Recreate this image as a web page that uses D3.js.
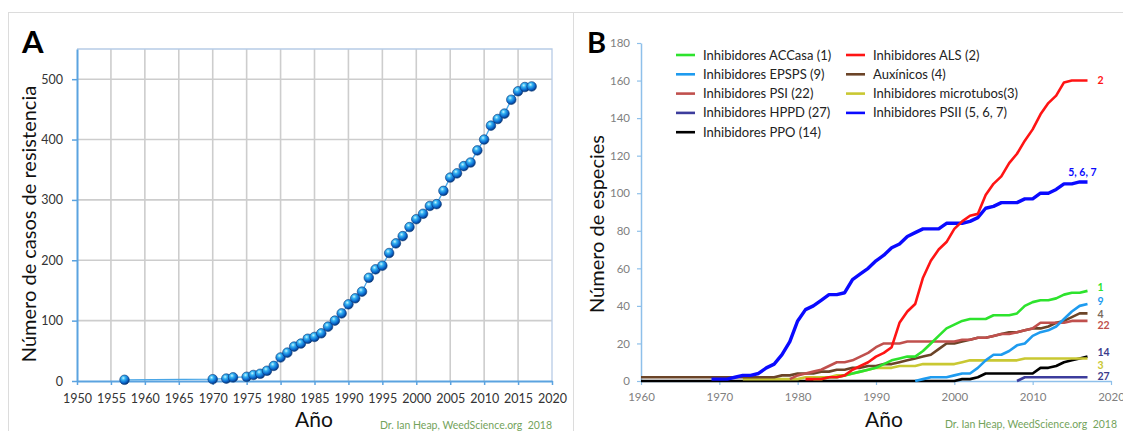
<html>
<head>
<script src="https://d3js.org/d3.v7.min.js"></script>
<style>
  body { margin: 0; background: #fff; }
  text { font-family: Lato, "Open Sans", sans-serif; }
</style>
</head>
<body>
<svg id="chart" width="1123" height="431"></svg>
<script>

// ---------- panel A: accumulated resistance cases ----------
const yearsA = [1957, 1970, 1972, 1973, 1975, 1976, 1977, 1978, 1979, 1980, 1981, 1982, 1983, 1984, 1985, 1986,
  1987, 1988, 1989, 1990, 1991, 1992, 1993, 1994, 1995, 1996, 1997, 1998, 1999, 2000, 2001, 2002, 2003, 2004,
  2005, 2006, 2007, 2008, 2009, 2010, 2011, 2012, 2013, 2014, 2015, 2016, 2017];
const casesA = [2, 3, 4, 6, 7, 10, 12, 17, 25, 39, 47, 57, 62, 70, 73, 79,
  90, 100, 112, 127, 137, 148, 171, 185, 191, 212, 228, 240, 255, 268, 277, 290, 293, 315,
  337, 344, 356, 362, 382, 400, 423, 434, 443, 466, 480, 487, 488];
const xTicksA = [1950, 1955, 1960, 1965, 1970, 1975, 1980, 1985, 1990, 1995, 2000, 2005, 2010, 2015, 2020];
const yTicksA = [0, 100, 200, 300, 400, 500];

// ---------- panel B: species per herbicide site of action (1960-2017) ----------
const yearsB = d3.range(1960, 2018);
const _ = null;
const accasa = [_,_,_,_,_,_,_,_,_,_, _,_,_,_,_,_,_,_,_,_,
  _,_,1,1,2,2,3,4,5,6, 7,9,11,12,13,13,16,20,24,28,
  30,32,33,33,33,35,35,35,36,40, 42,43,43,44,46,47,47,48];
const als = [_,_,_,_,_,_,_,_,_,_, _,_,_,_,_,_,_,_,_,_,
  _,1,1,1,2,2,3,6,8,10, 13,15,18,31,37,41,55,64,70,74,
  81,85,88,89,99,105,109,116,121,128, 134,142,148,152,159,160,160,160];
const epsps = [_,_,_,_,_,_,_,_,_,_, _,_,_,_,_,_,_,_,_,_,
  _,_,_,_,_,_,_,_,_,_, _,_,_,_,_,0,1,2,2,2,
  3,4,4,7,11,14,14,16,19,20, 24,26,27,29,33,37,40,41];
const auxinicos = [2,2,2,2,2,2,2,2,2,2, 2,2,2,2,2,2,2,2,3,3,
  4,4,4,5,5,6,6,7,7,8, 8,9,9,10,11,12,13,14,17,20,
  20,21,22,23,23,24,25,26,26,27, 28,28,29,31,32,34,36,36];
const psi = [_,_,_,_,_,_,_,_,_,_, _,_,_,_,_,_,_,_,_,1,
  3,4,5,6,8,10,10,11,13,15, 18,20,20,20,21,21,21,21,21,21,
  21,22,22,23,23,24,25,25,26,27, 28,31,31,31,31,32,32,32];
const microtubos = [_,_,_,_,_,_,_,_,_,_, _,_,_,1,1,1,1,1,1,1,
  1,2,2,2,2,3,3,4,5,6, 7,7,7,8,8,8,9,9,9,9,
  9,10,11,11,11,11,11,11,11,12, 12,12,12,12,12,12,12,12];
const hppd = [_,_,_,_,_,_,_,_,_,_, _,_,_,_,_,_,_,_,_,_,
  _,_,_,_,_,_,_,_,_,_, _,_,_,_,_,_,_,_,_,_,
  _,_,_,_,_,_,_,_,0,2, 2,2,2,2,2,2,2,2];
const psii = [_,_,_,_,_,_,_,_,_,1, 1,1,2,3,3,4,7,9,14,21,
  32,38,40,43,46,46,47,54,57,60, 64,67,71,73,77,79,81,81,81,84,
  84,84,85,87,92,93,95,95,95,97, 97,100,100,102,105,105,106,106];
const ppo = [0,0,0,0,0,0,0,0,0,0, 0,0,0,0,0,0,0,0,0,0,
  0,0,0,0,0,0,0,0,0,0, 0,0,0,0,0,0,0,0,0,0,
  0,1,1,2,4,4,4,4,4,4, 4,7,7,8,10,11,12,13];

const legendNames = ["Inhibidores ACCasa (1)", "Inhibidores EPSPS (9)", "Inhibidores PSI (22)",
  "Inhibidores HPPD (27)", "Inhibidores PPO (14)", "Inhibidores ALS (2)", "Auxínicos (4)",
  "Inhibidores microtubos(3)", "Inhibidores PSII (5, 6, 7)"];
const endLabels = ["1", "9", "22", "27", "14", "2", "4", "3", "5, 6, 7"];
// value (in species) where each end label sits
const endLabelAt = [49.7, 42.2, 29.8, 2.7, 15.4, 160, 35.7, 8.5, 111];
const xTicksB = [1960, 1970, 1980, 1990, 2000, 2010, 2020];
const yTicksB = [0, 20, 40, 60, 80, 100, 120, 140, 160, 180];

const seriesB = [
  { values: accasa, color: "#2de32d" },
  { values: epsps, color: "#1e9bef" },
  { values: psi, color: "#c0504d" },
  { values: hppd, color: "#3c3c9c" },
  { values: ppo, color: "#000000" },
  { values: als, color: "#ff1414" },
  { values: auxinicos, color: "#6b4428" },
  { values: microtubos, color: "#c9c832" },
  { values: psii, color: "#0a0aff" }
];
const labelColors = ["#2de32d", "#1e9bef", "#c0504d", "#3c3c8c", "#3c3c8c", "#ff1414", "#7a6a5a", "#c9c832", "#0a0aff"];
const drawOrder = [4, 3, 7, 6, 2, 1, 0, 8, 5];

const svg = d3.select("#chart");

// frame lines
svg.append("line").attr("x1", 8).attr("x2", 1123).attr("y1", 12.5).attr("y2", 12.5)
  .attr("stroke", "#dcdcdc").attr("stroke-width", 1);
svg.append("line").attr("x1", 8.5).attr("x2", 8.5).attr("y1", 12).attr("y2", 431)
  .attr("stroke", "#dcdcdc").attr("stroke-width", 1);
svg.append("line").attr("x1", 573.5).attr("x2", 573.5).attr("y1", 12).attr("y2", 431)
  .attr("stroke", "#dcdcdc").attr("stroke-width", 1);

// ================= panel A =================
const xA = d3.scaleLinear().domain([1950, 2020]).range([77, 552]);
const yA = d3.scaleLinear().domain([0, 550]).range([381, 49]);

const defs = svg.append("defs");
const grad = defs.append("radialGradient").attr("id", "ball")
  .attr("cx", "38%").attr("cy", "32%").attr("r", "68%");
grad.append("stop").attr("offset", "0%").attr("stop-color", "#c8f6ff");
grad.append("stop").attr("offset", "30%").attr("stop-color", "#35b4f2");
grad.append("stop").attr("offset", "72%").attr("stop-color", "#0a66cc");
grad.append("stop").attr("offset", "100%").attr("stop-color", "#06367a");

const gA = svg.append("g");

gA.selectAll(".vgrid").data(xTicksA.slice(1, -1)).join("line")
  .attr("x1", d => xA(d)).attr("x2", d => xA(d)).attr("y1", yA(550)).attr("y2", yA(0))
  .attr("stroke", "#cdcdcd").attr("stroke-width", 1.6);
gA.selectAll(".hgrid").data(yTicksA.slice(1)).join("line")
  .attr("x1", xA(1950)).attr("x2", xA(2020)).attr("y1", d => yA(d)).attr("y2", d => yA(d))
  .attr("stroke", "#cdcdcd").attr("stroke-width", 1.6);

// top and right border of plot
gA.append("path")
  .attr("d", `M${xA(1950)},${yA(550)}H${xA(2020)}V${yA(0)}`)
  .attr("fill", "none").attr("stroke", "#b7cbe6").attr("stroke-width", 1.3);

const axAy = gA.append("g").attr("transform", `translate(${xA(1950)},0)`)
  .call(d3.axisLeft(yA).tickValues(yTicksA).tickSize(5).tickSizeOuter(0).tickPadding(9));
const axAx = gA.append("g").attr("transform", `translate(0,${yA(0)})`)
  .call(d3.axisBottom(xA).tickValues(xTicksA).tickFormat(d3.format("d")).tickSize(4).tickSizeOuter(0).tickPadding(9));
[axAy, axAx].forEach(a => {
  a.select(".domain").attr("stroke", "#5ba3e0").attr("stroke-width", 2);
  a.selectAll(".tick line").attr("stroke", "#5ba3e0").attr("stroke-width", 1.5);
  a.selectAll("text").attr("font-size", 12.5).attr("fill", "#333").attr("font-family", "Lato");
});

const lineA = d3.line().x((d, i) => xA(yearsA[i])).y(d => yA(d));
gA.append("path").datum(casesA).attr("d", lineA)
  .attr("fill", "none").attr("stroke", "#4aa6e6").attr("stroke-width", 1.3);
gA.selectAll(".pt").data(casesA).join("circle")
  .attr("cx", (d, i) => xA(yearsA[i])).attr("cy", d => yA(d)).attr("r", 4.8)
  .attr("fill", "url(#ball)").attr("stroke", "#0b3a78").attr("stroke-width", 0.6);

svg.append("text").text("A").attr("x", 22).attr("y", 53)
  .attr("font-family", "Liberation Sans, Arial").attr("font-weight", "bold").attr("font-size", 31);
svg.append("text").text("Número de casos de resistencia")
  .attr("transform", "translate(36,224) rotate(-90)").attr("text-anchor", "middle")
  .attr("font-size", 20).attr("fill", "#111");
svg.append("text").text("Año").attr("x", 314).attr("y", 427).attr("text-anchor", "middle")
  .attr("font-size", 21).attr("fill", "#111");
svg.append("text").text("Dr. Ian Heap, WeedScience.org  2018").attr("x", 552).attr("y", 429)
  .attr("text-anchor", "end").attr("font-size", 10.5).attr("fill", "#74a35c").attr("xml:space", "preserve")
  .style("white-space", "pre");

// ================= panel B =================
const xB = d3.scaleLinear().domain([1960, 2020]).range([641, 1111]);
const yB = d3.scaleLinear().domain([0, 180]).range([381, 43]);
const gB = svg.append("g");

const axBy = gB.append("g").attr("transform", `translate(${xB(1960)},0)`)
  .call(d3.axisLeft(yB).tickValues(yTicksB).tickSize(4).tickSizeOuter(0).tickPadding(7));
const axBx = gB.append("g").attr("transform", `translate(0,${yB(0)})`)
  .call(d3.axisBottom(xB).tickValues(xTicksB).tickFormat(d3.format("d")).tickSize(4).tickSizeOuter(0).tickPadding(8));
[axBy, axBx].forEach(a => {
  a.select(".domain").attr("stroke", "#8ec0ea").attr("stroke-width", 1.5);
  a.selectAll(".tick line").attr("stroke", "#8ec0ea").attr("stroke-width", 1.2);
  a.selectAll("text").attr("font-size", 11.5).attr("fill", "#808080").attr("font-family", "Lato");
});

const lineB = d3.line().defined(d => d != null)
  .x((d, i) => xB(yearsB[i])).y(d => yB(d));
drawOrder.forEach(k => {
  gB.append("path").datum(seriesB[k].values).attr("d", lineB)
    .attr("fill", "none").attr("stroke", seriesB[k].color)
    .attr("stroke-width", k === 8 ? 3.4 : 2.6).attr("stroke-linejoin", "round");
});

// end labels
endLabels.forEach((t, k) => {
  const multi = t.length > 2;
  gB.append("text").text(t)
    .attr("x", multi ? xB(2017) + 9 : xB(2017) + 10)
    .attr("y", yB(endLabelAt[k]))
    .attr("dy", "0.35em")
    .attr("text-anchor", multi ? "end" : "start")
    .attr("font-size", 10.5).attr("font-weight", "bold").attr("fill", labelColors[k]);
});

// legend (two columns)
const legend = gB.append("g");
legendNames.forEach((name, k) => {
  const col = k < 5 ? 0 : 1;
  const row = k < 5 ? k : k - 5;
  const lx = col === 0 ? 676 : 846;
  const ly = 55 + row * 19.3;
  legend.append("line").attr("x1", lx).attr("x2", lx + 19).attr("y1", ly).attr("y2", ly)
    .attr("stroke", seriesB[k].color).attr("stroke-width", 2.6);
  legend.append("text").text(name).attr("x", lx + 27).attr("y", ly).attr("dy", "0.35em")
    .attr("font-size", 13).attr("fill", "#222");
});

svg.append("text").text("B").attr("x", 587).attr("y", 53)
  .attr("font-family", "Liberation Sans, Arial").attr("font-weight", "bold").attr("font-size", 29);
svg.append("text").text("Número de especies")
  .attr("transform", "translate(604,224) rotate(-90)").attr("text-anchor", "middle")
  .attr("font-size", 20).attr("fill", "#111");
svg.append("text").text("Año").attr("x", 884).attr("y", 427).attr("text-anchor", "middle")
  .attr("font-size", 21).attr("fill", "#111");
svg.append("text").text("Dr. Ian Heap, WeedScience.org  2018").attr("x", 1117).attr("y", 428)
  .attr("text-anchor", "end").attr("font-size", 10.5).attr("fill", "#74a35c")
  .style("white-space", "pre");

</script>
</body>
</html>
